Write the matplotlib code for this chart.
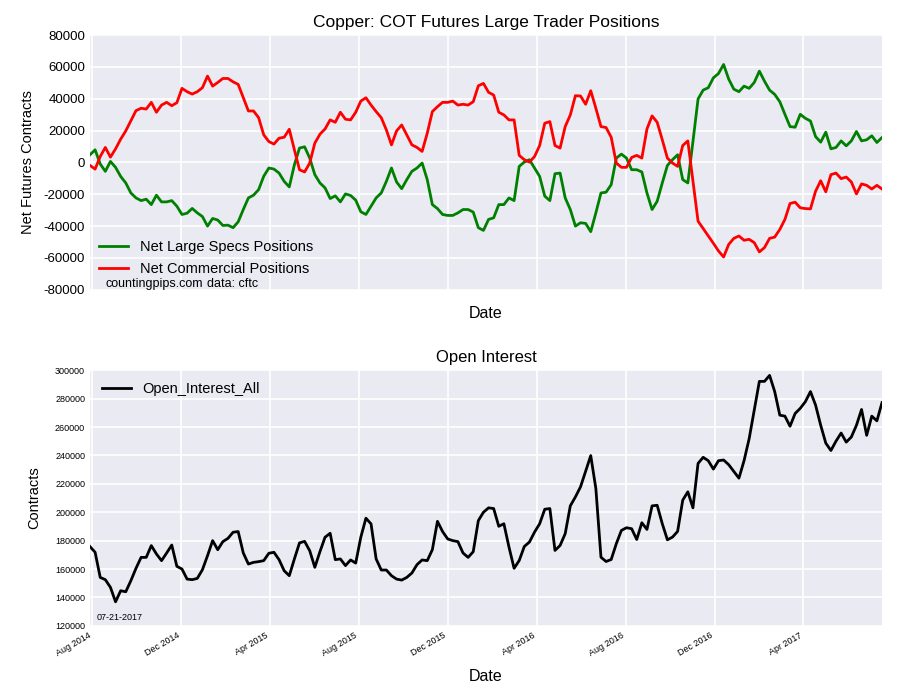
import matplotlib
matplotlib.use('Agg')
import matplotlib.pyplot as plt
import matplotlib.dates as mdates
import numpy as np
import pandas as pd

plt.rcParams['font.family'] = ['Liberation Sans', 'DejaVu Sans']
plt.rcParams['axes.unicode_minus'] = False

# weekly COT report dates
dates = pd.date_range('2014-07-29', '2017-07-18', freq='7D')

large_specs = [
    4800, 7900, -1000, -5600, 600, -3100, -8800, -12900, -19200, -22300,
    -24000, -23100, -26500, -20600, -24800, -24800, -24000, -27500, -32700, -31900,
    -28900, -31700, -34000, -40000, -35200, -36200, -39600, -39400, -41000, -37300,
    -29600, -22300, -20600, -17100, -8700, -3500, -4200, -6700, -11900, -15400,
    -1500, 9000, 9800, 2700, -7700, -12900, -16000, -22700, -21000, -24800,
    -19800, -20800, -23700, -31000, -32700, -27500, -22300, -19200, -11900, -3500,
    -12300, -16500, -10800, -5600, -3500, -400, -10800, -26500, -29000, -32700,
    -33300, -33300, -31700, -29600, -29600, -31200, -41000, -42700, -35800,
    -34800, -26500, -26500, -22300, -24000, -2500, 200, 1700, -3500, -8800,
    -21200, -24000, -7100, -6700, -22300, -29600, -40000, -37900, -38300, -43500,
    -31700, -19200, -18700, -14000, 2700, 5200, 2700, -4600, -4600, -6000,
    -19200, -29600, -24400, -12900, -1900, 1700, 4800, -10800, -12900,
    13100, 39800, 45400, 46900, 53100, 55800, 61500, 52300, 46000, 44400,
    47900, 46500, 50200, 57300, 51000, 45400, 42700, 38100, 30200, 22500,
    22100, 30200, 27700, 26000, 16200, 12700, 19000, 8500, 9400, 13500,
    10400, 13500, 19400, 13500, 14200, 16700, 12500, 15600,
]

commercials = [
    -1900, -4200, 3700, 9400, 3300, 8500, 14600, 19800, 26200, 32500,
    34000, 33500, 37700, 31500, 36000, 37700, 35600, 37500, 46500, 44400,
    42900, 44400, 46900, 54200, 47900, 50200, 52700, 52700, 50600, 49000,
    40600, 32300, 32300, 28100, 17300, 13100, 11500, 15200, 15800, 20800,
    7900, -4600, -6000, -400, 12100, 17700, 21000, 26700, 25200, 31500,
    27100, 26700, 31500, 38500, 40600, 36000, 31900, 28100, 20400, 11000,
    19800, 23500, 17300, 11000, 9400, 6900, 18300, 31900, 35000, 37700,
    37700, 38500, 36000, 36500, 36000, 38100, 48100, 49600, 44000,
    42300, 31500, 29800, 26700, 26700, 4400, 1700, 200, 3700, 10600,
    24600, 25600, 10600, 9000, 22500, 29800, 41900, 41700, 36500, 45000,
    34000, 22500, 21900, 15800, -400, -3100, -3100, 3100, 4400, 2700,
    21000, 29200, 25200, 14200, 2700, -400, -2500, 10600, 13500,
    -11900, -36900, -41500, -46200, -50800, -55600, -59400, -51500, -47700, -46200,
    -48900, -48300, -50400, -56200, -53500, -47700, -46900, -42100, -35800, -25800,
    -25000, -28500, -29000, -29200, -18100, -11500, -18500, -7700, -6700, -10200,
    -9200, -12300, -19800, -13500, -14400, -16700, -14400, -16700,
]

open_interest = [
    175800, 171800, 154100, 152500, 147100, 136900, 144700, 144000, 151800, 160500,
    168200, 168200, 176500, 170600, 165900, 171300, 176900, 161900, 160000, 152900,
    152500, 153400, 159500, 169400, 180000, 173600, 179300, 181600, 185900, 186400,
    171300, 163500, 164700, 165200, 165900, 171100, 171800, 166600, 158800, 155300,
    167100, 178400, 179500, 172900, 161200, 172200, 182400, 185200, 166600, 167100,
    162400, 166400, 164200, 182400, 195800, 191800, 167100, 159300, 159300, 155300,
    152900, 152200, 154100, 157200, 163100, 166400, 165900, 173600, 193600, 186400,
    181200, 180000, 179300, 171300, 168200, 172200, 194100, 200000, 203100,
    202600, 190100, 191900, 175400, 160500, 166000, 175900, 179000, 186000, 191900,
    202100, 202600, 173100, 176600, 184900, 204500, 210800, 217900, 229000, 239900,
    216700, 168300, 165300, 166700, 177800, 187200, 189100, 188400, 180800, 192600,
    187900, 204500, 204900, 191900, 180600, 182500, 186500, 208500, 214400,
    203100, 234400, 238700, 236300, 230400, 236300, 236800, 233500, 228700, 224000,
    236300, 251800, 272000, 292200, 292200, 296400, 285000, 268400, 267700, 260600,
    269600, 273200, 277900, 285000, 275500, 261300, 248700, 243500, 250100, 255800,
    249400, 253000, 261300, 272400, 254200, 267700, 264400, 277200,
]

BG = '#EAEAF2'


def style_axes(ax):
    ax.set_facecolor(BG)
    ax.grid(True, color='white', linewidth=1.2)
    ax.set_axisbelow(True)
    for s in ax.spines.values():
        s.set_visible(False)
    ax.tick_params(length=0)
    ax.xaxis.set_major_locator(mdates.MonthLocator(bymonth=[4, 8, 12]))
    ax.xaxis.set_major_formatter(mdates.DateFormatter('%b %Y'))
    ax.set_xlim(dates[0], dates[-1])


fig = plt.figure(figsize=(9, 7), dpi=100)
ax1 = fig.add_axes([0.1, 0.586, 0.88, 0.364])
ax2 = fig.add_axes([0.1, 0.106, 0.88, 0.365])

# --- top: net positions
style_axes(ax1)
ax1.plot(dates, large_specs, color='green', linewidth=2, label='Net Large Specs Positions')
ax1.plot(dates, commercials, color='red', linewidth=2, label='Net Commercial Positions')
ax1.set_ylim(-80000, 80000)
ax1.set_yticks(np.arange(-80000, 80001, 20000))
ax1.tick_params(axis='y', labelsize=9.5)
ax1.tick_params(axis='x', labelbottom=False)
ax1.set_title('Copper: COT Futures Large Trader Positions', fontsize=12.5)
ax1.set_ylabel('Net Futures Contracts', fontsize=10.5, labelpad=6)
ax1.set_xlabel('Date', fontsize=11.5, labelpad=12)
ax1.legend(loc='lower left', bbox_to_anchor=(0.0, 0.02), frameon=False,
           fontsize=10.5, handlelength=2.0, borderaxespad=0.2, labelspacing=0.55)
ax1.text(0.02, 0.0, 'countingpips.com', transform=ax1.transAxes,
         fontsize=9, va='bottom', ha='left')
ax1.text(0.148, 0.0, 'data: cftc', transform=ax1.transAxes,
         fontsize=9, va='bottom', ha='left')

# --- bottom: open interest
style_axes(ax2)
ax2.plot(dates, open_interest, color='black', linewidth=2, label='Open_Interest_All')
ax2.set_ylim(120000, 300000)
ax2.set_yticks(np.arange(120000, 300001, 20000))
ax2.tick_params(axis='y', labelsize=6.5)
ax2.tick_params(axis='x', labelsize=6.5)
for lbl in ax2.get_xticklabels():
    lbl.set_rotation(30)
    lbl.set_ha('right')
ax2.set_title('Open Interest', fontsize=12)
ax2.set_ylabel('Contracts', fontsize=10.5, labelpad=10)
ax2.set_xlabel('Date', fontsize=11.5, labelpad=8)
ax2.legend(loc='upper left', frameon=False, fontsize=10.5, handlelength=2.0,
           borderaxespad=0.4)
ax2.text(0.008, 0.015, '07-21-2017', transform=ax2.transAxes,
         fontsize=6.5, va='bottom', ha='left')

fig.savefig('out.png', dpi=100)
